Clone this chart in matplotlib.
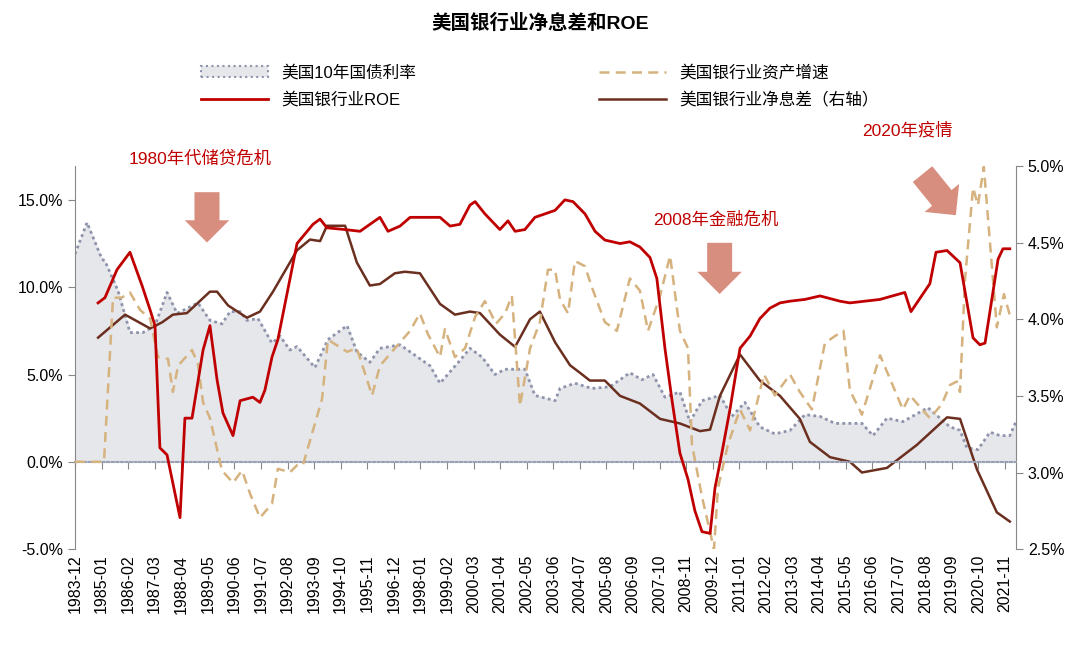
import matplotlib
matplotlib.use("Agg")
import matplotlib.pyplot as plt
from matplotlib.ticker import FuncFormatter
from matplotlib.patches import Patch
from matplotlib.lines import Line2D

plt.rcParams['font.family'] = ['Liberation Sans', 'Noto Sans CJK SC', 'DejaVu Sans']

# 10Y Treasury yield (%)
t_x = [1983.92,1984.41,1985.02,1985.14,1985.67,1986.16,1986.69,1987.18,1987.67,1988.08,1988.93,1989.42,1989.91,
       1990.24,1990.65,1990.93,1991.38,1991.95,1992.28,1992.68,1992.97,1993.70,1994.23,1995.01,1995.41,1995.94,
       1996.35,1997.17,1998.39,1998.80,1999.61,2000.02,2000.51,2001.04,2001.45,2002.26,2002.67,2003.49,2003.69,
       2004.30,2004.99,2005.73,2006.54,2007.03,2007.48,2007.97,2008.58,2008.99,2009.48,2010.21,2010.70,2011.23,
       2011.84,2012.45,2013.07,2013.68,2014.29,2014.90,2015.51,2016.00,2016.45,2017.02,2017.67,2018.69,2019.59,
       2020.00,2020.28,2020.73,2021.22,2021.63,2022.03,2022.28]
t_y = [11.9,13.7,11.6,11.5,9.8,7.4,7.4,7.8,9.7,8.5,9.1,8.1,7.9,
       8.6,8.6,8.1,8.2,6.8,7.2,6.4,6.6,5.4,7.0,7.8,6.3,5.7,
       6.5,6.7,5.5,4.5,5.8,6.5,6.0,5.0,5.3,5.3,3.8,3.5,4.2,
       4.5,4.2,4.3,5.1,4.7,5.0,3.7,4.0,2.3,3.5,3.8,2.6,3.4,
       2.0,1.6,1.8,2.7,2.6,2.2,2.2,2.2,1.5,2.5,2.3,3.1,2.0,
       1.8,0.8,0.7,1.7,1.5,1.5,2.3]

# Bank asset growth (%)
a_x = [1983.92,1985.10,1985.47,1985.82,1986.16,1986.57,1986.98,1987.30,1987.71,1987.91,1988.12,1988.69,1988.93,
       1989.14,1989.42,1989.91,1990.36,1990.73,1991.05,1991.46,1991.95,1992.19,1992.68,1992.97,1993.21,1993.99,
       1994.23,1995.01,1995.41,1996.03,1996.35,1996.96,1997.58,1997.98,1998.31,1998.80,1999.00,1999.41,1999.82,
       2000.23,2000.63,2001.08,2001.45,2001.73,2002.06,2002.47,2002.87,2003.20,2003.49,2003.69,2004.02,2004.30,
       2004.71,2004.99,2005.52,2006.01,2006.54,2006.95,2007.28,2007.77,2008.18,2008.58,2008.91,2009.07,2009.48,
       2009.97,2010.13,2010.54,2011.03,2011.44,2012.01,2012.45,2013.07,2013.47,2013.96,2014.49,2014.90,2015.25,
       2015.51,2016.00,2016.74,2017.67,2017.96,2018.77,2019.26,2019.59,2019.87,2020.00,2020.20,2020.53,2020.73,
       2020.97,2021.50,2021.79,2022.03]
a_y = [0.0,0.0,9.4,9.4,9.7,8.7,8.2,6.0,5.9,4.0,5.5,6.4,5.6,
       3.4,2.5,-0.5,-1.2,-0.5,-1.8,-3.2,-2.4,-0.4,-0.6,-0.2,-0.2,3.6,
       7.0,6.3,6.5,3.8,5.5,6.5,7.5,8.5,7.3,6.0,7.6,6.0,6.5,
       8.3,9.2,7.9,8.5,9.5,3.2,6.5,8.0,11.0,11.0,9.3,8.5,11.5,
       11.2,10.0,8.0,7.5,10.5,9.8,7.5,9.5,11.8,7.5,6.5,1.0,-2.0,
       -5.0,-1.5,1.0,3.0,1.8,5.0,3.8,5.0,4.0,3.0,6.8,7.2,7.5,
       4.1,2.7,6.1,3.0,3.8,2.5,3.3,4.4,4.6,4.0,10.4,15.7,14.7,
       16.9,7.7,9.6,8.4]

# Bank ROE (%)
r_x = [1984.86,1985.14,1985.63,1986.16,1986.65,1986.98,1987.18,1987.38,1987.67,1988.20,1988.40,1988.69,1989.14,
       1989.42,1989.71,1989.95,1990.36,1990.65,1991.17,1991.46,1991.66,1991.95,1992.19,1992.97,1993.62,1993.91,
       1994.19,1994.93,1995.54,1995.74,1996.35,1996.68,1997.17,1997.58,1998.80,1999.21,1999.61,2000.02,2000.23,
       2000.63,2001.24,2001.57,2001.86,2002.26,2002.67,2003.08,2003.49,2003.89,2004.22,2004.71,2005.12,2005.52,
       2006.14,2006.54,2006.95,2007.36,2007.64,2007.97,2008.26,2008.58,2008.91,2009.19,2009.48,2009.81,2010.01,
       2010.29,2010.62,2011.03,2011.44,2011.84,2012.25,2012.66,2013.07,2013.68,2014.29,2015.10,2015.51,2016.74,
       2017.75,2018.00,2018.77,2019.02,2019.47,2020.00,2020.53,2020.81,2021.02,2021.55,2021.75,2022.03]
r_y = [9.1,9.4,11.0,12.0,10.1,8.7,7.8,0.8,0.4,-3.2,2.5,2.5,6.4,
       7.8,4.7,2.8,1.5,3.5,3.7,3.4,4.1,6.0,7.0,12.5,13.6,13.9,
       13.4,13.3,13.2,13.4,14.0,13.2,13.5,14.0,14.0,13.5,13.6,14.7,14.9,
       14.2,13.3,13.8,13.2,13.3,14.0,14.2,14.4,15.0,14.9,14.2,13.2,12.7,
       12.5,12.6,12.3,11.7,10.5,6.5,3.5,0.5,-1.0,-2.8,-4.0,-4.1,-1.5,
       0.5,3.0,6.5,7.2,8.2,8.8,9.1,9.2,9.3,9.5,9.2,9.1,9.3,
       9.7,8.6,10.2,12.0,12.1,11.4,7.1,6.7,6.8,11.6,12.2,12.2]

# Net interest margin (%, right axis)
n_x = [1984.86,1985.96,1986.98,1987.47,1987.91,1988.48,1989.42,1989.71,1990.16,1990.93,1991.46,1991.99,1992.97,
       1993.50,1993.91,1994.19,1994.93,1995.41,1995.94,1996.35,1996.96,1997.37,1997.98,1998.80,1999.41,2000.02,
       2000.43,2001.24,2001.86,2002.47,2002.87,2003.49,2004.10,2004.51,2004.91,2005.52,2006.14,2006.95,2007.77,
       2008.58,2009.40,2009.81,2010.21,2011.03,2011.84,2012.66,2013.47,2013.88,2014.70,2015.51,2016.00,2017.02,
       2018.24,2019.47,2020.00,2020.69,2021.50,2022.03]
n_y = [3.88,4.03,3.94,3.98,4.03,4.04,4.18,4.18,4.09,4.01,4.05,4.18,4.45,
       4.52,4.51,4.61,4.61,4.37,4.22,4.23,4.30,4.31,4.30,4.10,4.03,4.05,
       4.04,3.90,3.82,4.00,4.05,3.85,3.70,3.65,3.60,3.60,3.50,3.45,3.35,
       3.32,3.27,3.28,3.50,3.77,3.60,3.50,3.35,3.20,3.10,3.07,3.00,3.03,
       3.18,3.36,3.35,3.02,2.74,2.68]

tick_labels = []
for k in range(36):
    mm = 12 + 13 * k - 1
    tick_labels.append(f"{1983 + mm // 12}-{mm % 12 + 1:02d}")
tick_pos = [1983.917 + 13 * k / 12 for k in range(36)]

fig = plt.figure(figsize=(10.8, 6.64), dpi=100)
ax = fig.add_axes([0.0694, 0.173, 0.8713, 0.577])
ax2 = ax.twinx()
ax.set_xlim(1983.92, 2022.28)
ax.set_ylim(-5, 16.94)
ax2.set_ylim(2.5, 5.0)

# area and dotted outline drawn on the lower axes in left-axis data coords
ax2.fill_between(t_x, 0, t_y, color='#e6e7eb', zorder=1, transform=ax.transData)
ax2.plot(t_x, t_y, color='#8d93ab', lw=2, ls=(0, (1, 1.2)), zorder=2, transform=ax.transData)
ax2.plot(n_x, n_y, color='#6b2f1f', lw=1.8, zorder=4)
ax.plot(a_x, a_y, color='#d5b27e', lw=1.8, ls=(0, (4, 2.5)), zorder=3)
ax.plot(r_x, r_y, color='#c00000', lw=2, zorder=5)
ax.set_zorder(ax2.get_zorder() + 1)
ax.patch.set_visible(False)

ax.set_yticks([-5, 0, 5, 10, 15])
ax.yaxis.set_major_formatter(FuncFormatter(lambda v, p: f"{v:.1f}%"))
ax2.set_yticks([2.5, 3.0, 3.5, 4.0, 4.5, 5.0])
ax2.yaxis.set_major_formatter(FuncFormatter(lambda v, p: f"{v:.1f}%"))

for a in (ax, ax2):
    a.spines['top'].set_visible(False)
    a.spines['left'].set_color('#888888')
    a.spines['right'].set_color('#888888')
    a.tick_params(labelsize=11.5, color='#888888', length=5)
ax2.spines['bottom'].set_visible(False)
ax.spines['right'].set_visible(False)
ax2.spines['left'].set_visible(False)

ax.spines['bottom'].set_position(('data', 0))
ax.spines['bottom'].set_color('#9aa0b4')
ax.spines['bottom'].set_linestyle((0, (1, 1.2)))
ax.spines['bottom'].set_linewidth(1.5)
ax.set_xticks(tick_pos)
ax.tick_params(axis='x', labelbottom=False, length=5, color='#888888')
sec = ax.secondary_xaxis(0.0)
sec.set_xticks(tick_pos)
sec.set_xticklabels(tick_labels, rotation=90, fontsize=11.5)
sec.tick_params(length=0, pad=4)
sec.spines['bottom'].set_visible(False)

fig.text(0.5, 0.965, "美国银行业净息差和ROE", ha='center', va='center', fontsize=14, fontweight='bold')

h = [Patch(facecolor='#e6e7eb', edgecolor='#8d93ab', ls=':', lw=1.5),
     Line2D([], [], color='#c00000', lw=2),
     Line2D([], [], color='#d5b27e', lw=1.8, ls=(0, (4, 2.5))),
     Line2D([], [], color='#6b2f1f', lw=1.8)]
l = ["美国10年国债利率", "美国银行业ROE", "美国银行业资产增速", "美国银行业净息差（右轴）"]
fig.legend(h, l, ncol=2, loc='center', bbox_to_anchor=(0.5, 0.87), frameon=False, fontsize=12,
           columnspacing=11, handlelength=4, labelspacing=0.7)

ann_col = '#c00000'
arrow_col = '#d27a68'
astyle = 'simple,head_width=3.2,head_length=1.6,tail_width=1.8'
ax.text(1989.0, 17.4, "1980年代储贷危机", color=ann_col, fontsize=12.5, ha='center', va='center', clip_on=False)
ax.annotate("", xy=(1989.3, 12.4), xytext=(1989.3, 15.6),
            arrowprops=dict(arrowstyle=astyle, color=arrow_col, alpha=0.85, lw=0))
ax.text(2010.05, 13.85, "2008年金融危机", color=ann_col, fontsize=12.5, ha='center', va='center')
ax.annotate("", xy=(2010.2, 9.45), xytext=(2010.2, 12.7),
            arrowprops=dict(arrowstyle=astyle, color=arrow_col, alpha=0.85, lw=0))
ax.text(2017.85, 19.0, "2020年疫情", color=ann_col, fontsize=12.5, ha='center', va='center', clip_on=False)
ax.annotate("", xy=(2019.9, 14.0), xytext=(2018.4, 16.6),
            arrowprops=dict(arrowstyle=astyle, color=arrow_col, alpha=0.85, lw=0), annotation_clip=False)

fig.savefig("out.png", dpi=100)
